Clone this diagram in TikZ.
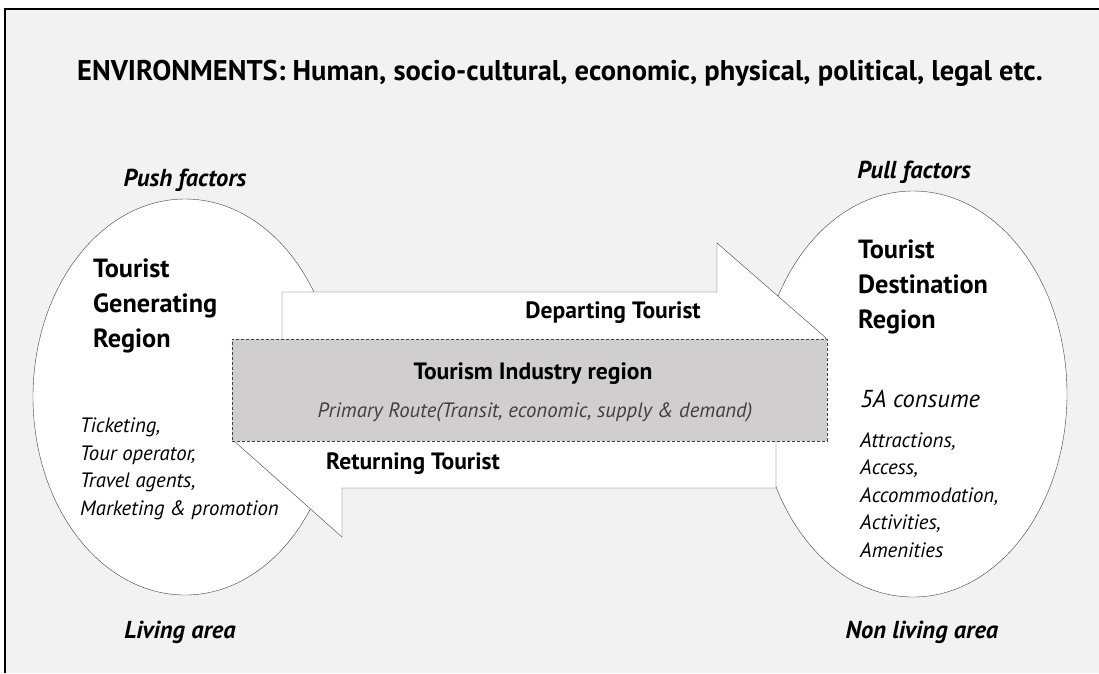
\documentclass[tikz,border=0pt]{standalone}
\usepackage{fontspec}
\setmainfont{PT Sans}
\usetikzlibrary{shapes.geometric}

\definecolor{bggray}{HTML}{F2F2F2}
\definecolor{boxgray}{HTML}{D0CECE}
\definecolor{linegray}{HTML}{404040}

\begin{document}
\begin{tikzpicture}[
    x=1pt, y=-1pt,
    % === STYLES ===
    region/.style={ellipse, draw=linegray, fill=white, inner sep=0pt},
    flow arrow/.style={draw=linegray, fill=white, line join=miter},
    industry box/.style={rectangle, draw=linegray, dash pattern=on 3pt off 2pt, fill=boxgray, inner sep=0pt},
    title text/.style={font=\bfseries\fontsize{28.5}{32}\selectfont, anchor=base},
    factor text/.style={font=\bfseries\itshape\fontsize{24.5}{28}\selectfont, anchor=base},
    region text/.style={font=\bfseries\fontsize{26.3}{35}\selectfont, align=left, anchor=base west, inner sep=0pt},
    list text/.style={font=\itshape\fontsize{20.8}{27.5}\selectfont, align=left, anchor=base west, inner sep=0pt},
    flow text/.style={font=\bfseries\fontsize{23.6}{26}\selectfont, anchor=base},
]
    \useasboundingbox (0,0) rectangle (1099,673);

    % === NEN ===
    \fill[bggray] (5,9) rectangle (1099,673);
    \draw[black, line width=1.2pt] (5,673) -- (5,9) -- (1099,9);

    % === HAI VUNG ===
    \node[region, minimum width=304pt, minimum height=396pt] (gen) at (185,397) {};
    \node[region, minimum width=308pt, minimum height=406pt] (dest) at (913,394) {};

    % === MUI TEN DI ===
    \coordinate (D1) at (282,292);
    \coordinate (D2) at (717,292);
    \coordinate (D3) at (717,243);
    \coordinate (Dtip) at (826,338);
    \coordinate (D4) at (717,433);
    \coordinate (D5) at (717,384);
    \coordinate (D6) at (282,384);
    \draw[flow arrow] (D1) -- (D2) -- (D3) -- (Dtip) -- (D4) -- (D5) -- (D6) -- cycle;

    % === MUI TEN VE ===
    \coordinate (R1) at (776,392);
    \coordinate (R2) at (342,392);
    \coordinate (R3) at (342,343);
    \coordinate (Rtip) at (233,440);
    \coordinate (R4) at (342,537);
    \coordinate (R5) at (342,488);
    \coordinate (R6) at (776,488);
    \draw[flow arrow] (R1) -- (R2) -- (R3) -- (Rtip) -- (R4) -- (R5) -- (R6) -- cycle;

    % === VUNG NGANH DU LICH ===
    \node[industry box, minimum width=595pt, minimum height=102pt] (industry) at (529.5,390) {};

    % === NHAN ===
    \node[title text] (title) at (560,80) {ENVIRONMENTS: Human, socio-cultural, economic, physical, political, legal etc.};

    \node[factor text] (push) at (185,186) {Push factors};
    \node[factor text] (pull) at (914,178) {Pull factors};
    \node[factor text] (living) at (180,638) {Living area};
    \node[factor text] (nonliving) at (922,638) {Non living area};

    % base = dong cuoi
    \node[region text] (genname) at (93,347) {Tourist\\Generating\\Region};
    \node[region text] (destname) at (858,328) {Tourist\\Destination\\Region};

    \node[list text] (genlist) at (80,515) {Ticketing,\\Tour operator,\\Travel agents,\\Marketing \& promotion};
    \node[list text, font=\itshape\fontsize{24.5}{28}\selectfont] (consume) at (860,407) {5A consume};
    \node[list text] (destlist) at (860,557) {Attractions,\\Access,\\Accommodation,\\Activities,\\Amenities};

    \node[flow text] (departing) at (613,318) {Departing Tourist};
    \node[flow text] (industryname) at (533,379) {Tourism Industry region};
    \node[flow text, font=\itshape\fontsize{20.8}{24}\selectfont, text=linegray] (route) at (535,417) {Primary Route(Transit, economic, supply \& demand)};
    \node[flow text] (returning) at (413,469) {Returning Tourist};

\end{tikzpicture}
\end{document}
